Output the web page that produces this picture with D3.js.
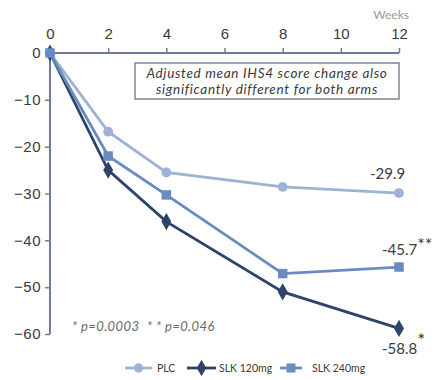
<!DOCTYPE html>
<html>
<head>
<meta charset="utf-8">
<script src="https://cdn.jsdelivr.net/npm/d3@7"></script>
<style>
  html, body { margin: 0; padding: 0; background: #fff; }
  svg { display: block; font-family: Lato, "Open Sans", sans-serif; }
</style>
</head>
<body>
<svg id="chart" width="435" height="380"></svg>
<script>
// Weeks of treatment and mean change in score per arm
const weeks = [0, 2, 4, 8, 12];
const seriesNames = ["PLC", "SLK 120mg", "SLK 240mg"];
const plc = [0, -16.8, -25.5, -28.6, -29.9];
const slk120 = [0, -25.0, -36.0, -51.0, -58.8];
const slk240 = [0, -22.0, -30.3, -47.1, -45.7];
const xTicks = [0, 2, 4, 6, 8, 10, 12];
const yTicks = [0, -10, -20, -30, -40, -50, -60];
const footnotes = ["* p=0.0003", "* * p=0.046"];

const colors = { "PLC": "#9db3d6", "SLK 120mg": "#2e4369", "SLK 240mg": "#6a8bc1" };
const symbols = { "PLC": d3.symbolCircle, "SLK 120mg": d3.symbolDiamond, "SLK 240mg": d3.symbolSquare };
const symSize = { "PLC": 75, "SLK 120mg": 85, "SLK 240mg": 90 };
const seriesData = { "PLC": plc, "SLK 120mg": slk120, "SLK 240mg": slk240 };

const svg = d3.select("#chart");
const x = d3.scaleLinear().domain([0, 12]).range([50, 399]);
const y = d3.scaleLinear().domain([0, -60]).range([53, 334]);

const axisColor = "#6f7c98";
const textColor = "#3a3a3a";

// Top x axis
const xAxis = svg.append("g")
  .attr("transform", `translate(0,${y(0)})`)
  .call(d3.axisTop(x).tickValues(xTicks).tickSize(5).tickPadding(9).tickFormat(d3.format("d")));
xAxis.select(".domain").attr("stroke", axisColor).attr("stroke-width", 2).attr("d", `M${x(0)},0H${x(12)}`);
xAxis.selectAll(".tick line").attr("stroke", axisColor).attr("stroke-width", 1.5);
xAxis.selectAll(".tick text").attr("fill", textColor).style("font-size", "15px");

// Left y axis
const yAxis = svg.append("g")
  .attr("transform", `translate(${x(0)},0)`)
  .call(d3.axisLeft(y).tickValues(yTicks).tickSize(5).tickPadding(4));
yAxis.select(".domain").attr("stroke", axisColor).attr("stroke-width", 2).attr("d", `M0,${y(0)}V${y(-60)}`);
yAxis.selectAll(".tick line").attr("stroke", axisColor).attr("stroke-width", 1.5);
yAxis.selectAll(".tick text").attr("fill", textColor).style("font-size", "15px").style("letter-spacing", "0.5px");

svg.append("text").attr("x", 409).attr("y", 19).attr("text-anchor", "end")
  .attr("fill", "#9a9a9a").style("font-size", "12px").text("Weeks");

// Annotation box
svg.append("rect").attr("x", 135).attr("y", 63).attr("width", 264).attr("height", 36)
  .attr("fill", "#fff").attr("stroke", "#5d6783").attr("stroke-width", 1.2);
const note = svg.append("text").attr("text-anchor", "middle").attr("fill", textColor)
  .style("font-size", "13.5px").style("font-style", "italic").style("letter-spacing", "0.7px");
note.append("tspan").attr("x", 267).attr("y", 78).text("Adjusted mean IHS4 score change also");
note.append("tspan").attr("x", 267).attr("y", 94).text("significantly different for both arms");

// Series lines and markers
const line = d3.line().x((d, i) => x(weeks[i])).y(d => y(d));
seriesNames.forEach(name => {
  const vals = seriesData[name];
  svg.append("path").datum(vals).attr("d", line)
    .attr("fill", "none").attr("stroke", colors[name]).attr("stroke-width", 2.8);
  svg.selectAll(null).data(vals).enter().append("path")
    .attr("d", d3.symbol().type(symbols[name]).size(symSize[name]))
    .attr("transform", (d, i) => `translate(${x(weeks[i])},${y(d)})`)
    .attr("fill", colors[name]);
});

// End-point value labels
function endLabel(val, tx, dy, stars, starDy, starSize) {
  const t = svg.append("text").attr("x", tx).attr("y", y(val) + dy)
    .attr("fill", textColor).style("font-size", "15px");
  t.append("tspan").text(val.toFixed(1));
  if (stars) {
    t.append("tspan").attr("dy", starDy).style("font-size", starSize).text(stars);
  }
}
endLabel(plc[4], 370, -14, null, 0, null);
endLabel(slk240[4], 382, -12, "**", -4, "18px");
endLabel(slk120[4], 382, 26, "*", -7, "19px");

// Significance footnotes
svg.selectAll(null).data(footnotes).enter().append("text")
  .attr("x", (d, i) => i === 0 ? 72 : 147).attr("y", 331).attr("fill", "#6a6a6a")
  .style("font-size", "13px").style("font-style", "italic").style("letter-spacing", "0.4px")
  .text(d => d);

// Legend
const legendPos = [
  { name: "PLC", x1: 125, x2: 152, tx: 157 },
  { name: "SLK 120mg", x1: 187, x2: 216, tx: 219 },
  { name: "SLK 240mg", x1: 280, x2: 302, tx: 312 }
];
const ly = 368;
legendPos.forEach(l => {
  svg.append("line").attr("x1", l.x1).attr("x2", l.x2).attr("y1", ly).attr("y2", ly)
    .attr("stroke", colors[l.name]).attr("stroke-width", 2.8);
  svg.append("path").attr("d", d3.symbol().type(symbols[l.name]).size(symSize[l.name] * 0.9))
    .attr("transform", `translate(${(l.x1 + l.x2) / 2},${ly})`).attr("fill", colors[l.name]);
  svg.append("text").attr("x", l.tx).attr("y", ly + 4).attr("fill", textColor)
    .style("font-size", "10.5px").text(l.name);
});
</script>
</body>
</html>
